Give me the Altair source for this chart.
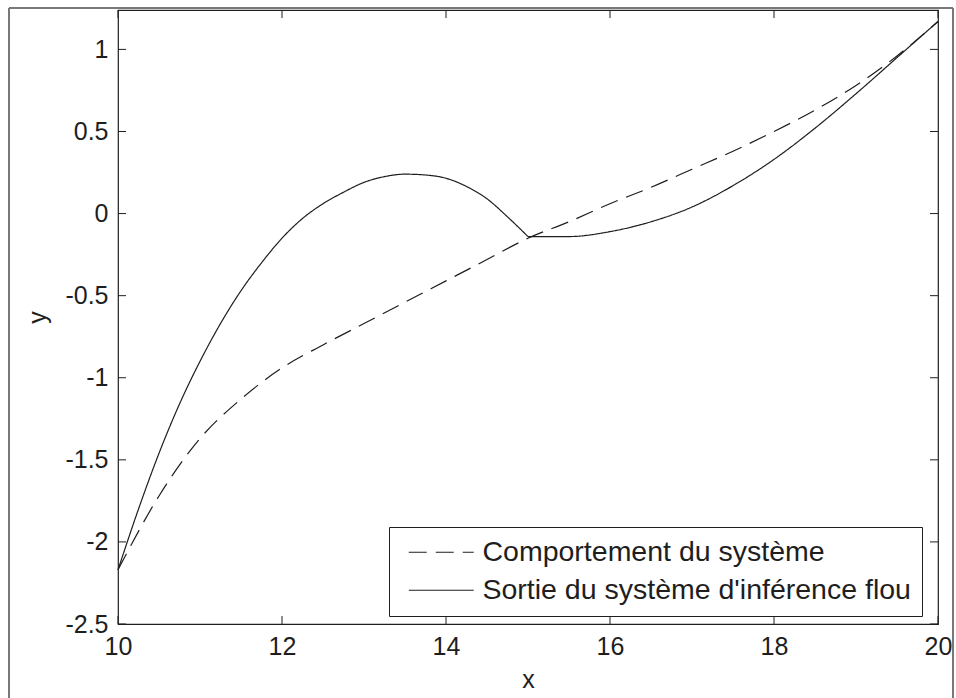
import altair as alt
import pandas as pd

# ---- data ----
series_names = ["Comportement du système", "Sortie du système d'inférence flou"]

x_sys = [10, 10.5, 11, 11.5, 12, 12.5, 13, 13.5, 14, 14.5, 15, 15.5, 16, 16.5, 17, 17.5, 18, 18.5, 19, 19.5, 20]
y_sys = [-2.17, -1.72, -1.37, -1.13, -0.94, -0.80, -0.67, -0.54, -0.41, -0.28, -0.15, -0.05, 0.06, 0.16, 0.27, 0.38, 0.50, 0.63, 0.78, 0.96, 1.17]

# fuzzy output, rising branch (10 -> 15) and second branch (15 -> 20)
x_fis_a = [10, 10.25, 10.5, 10.75, 11, 11.25, 11.5, 11.75, 12, 12.25, 12.5, 12.75, 13, 13.25, 13.5, 13.75, 14, 14.25, 14.5, 14.75, 15]
y_fis_a = [-2.17, -1.80, -1.46, -1.16, -0.90, -0.67, -0.47, -0.30, -0.15, -0.03, 0.06, 0.13, 0.19, 0.225, 0.24, 0.235, 0.215, 0.165, 0.09, -0.02, -0.14]
x_fis_b = [15, 15.5, 16, 16.5, 17, 17.5, 18, 18.5, 19, 19.5, 20]
y_fis_b = [-0.14, -0.14, -0.11, -0.05, 0.04, 0.17, 0.33, 0.52, 0.73, 0.95, 1.17]

x_ticks = [10, 12, 14, 16, 18, 20]
y_ticks = [-2.5, -2, -1.5, -1, -0.5, 0, 0.5, 1]

W, H = 820, 614
FONT = "Liberation Sans"
INK = "#1e1e1e"

df = pd.concat([
    pd.DataFrame({"x": x_sys, "y": y_sys, "series": series_names[0], "seg": "s0"}),
    pd.DataFrame({"x": x_fis_a, "y": y_fis_a, "series": series_names[1], "seg": "s1a"}),
    pd.DataFrame({"x": x_fis_b, "y": y_fis_b, "series": series_names[1], "seg": "s1b"}),
])

xs = alt.Scale(domain=[10, 20], nice=False, zero=False)
ys = alt.Scale(domain=[-2.5, 1.24], nice=False, zero=False)

ax_x = alt.Axis(values=x_ticks, title="x", ticks=False, grid=False, domain=False,
                labelFontSize=25, labelPadding=10, titleFontSize=25, titleFontWeight="normal",
                titlePadding=8, labelColor=INK, titleColor=INK, labelFont=FONT, titleFont=FONT,
                labelFlush=False, labelExpr="datum.value + ''")
ax_y = alt.Axis(values=y_ticks, title="y", ticks=False, grid=False, domain=False,
                labelFontSize=25, labelPadding=10, titleFontSize=25, titleFontWeight="normal",
                titlePadding=14, labelColor=INK, titleColor=INK, labelFont=FONT, titleFont=FONT,
                labelFlush=False, labelExpr="datum.value + ''")

lines = alt.Chart(df).mark_line(strokeWidth=1.2, color=INK, interpolate="monotone").encode(
    x=alt.X("x:Q", scale=xs, axis=ax_x, title="x"),
    y=alt.Y("y:Q", scale=ys, axis=ax_y, title="y"),
    strokeDash=alt.StrokeDash(
        "series:N",
        scale=alt.Scale(domain=series_names, range=[[18, 9], [1, 0]]),
        legend=alt.Legend(
            title=None, orient="none", legendX=271, legendY=517,
            symbolType="M-4,0H4", symbolSize=264, symbolStrokeColor=INK, symbolStrokeWidth=1.2,
            symbolOffset=27, labelOffset=27,
            labelFontSize=28.5, labelFont=FONT, labelColor=INK,
            padding=11, rowPadding=9, strokeColor=INK, fillColor="white",
            labelLimit=700,
        ),
    ),
    detail="seg:N",
)

xt = pd.DataFrame({"v": x_ticks})
yt = pd.DataFrame({"v": y_ticks})
TL = 8
tick_bottom = alt.Chart(xt).mark_rule(color=INK, strokeWidth=1).encode(
    x=alt.X("v:Q", scale=xs, axis=ax_x, title="x"), y=alt.value(H), y2=alt.value(H - TL))
tick_top = alt.Chart(xt).mark_rule(color=INK, strokeWidth=1).encode(
    x=alt.X("v:Q", scale=xs, axis=ax_x, title="x"), y=alt.value(0), y2=alt.value(TL))
tick_left = alt.Chart(yt).mark_rule(color=INK, strokeWidth=1).encode(
    y=alt.Y("v:Q", scale=ys, axis=ax_y, title="y"), x=alt.value(0), x2=alt.value(TL))
tick_right = alt.Chart(yt).mark_rule(color=INK, strokeWidth=1).encode(
    y=alt.Y("v:Q", scale=ys, axis=ax_y, title="y"), x=alt.value(W), x2=alt.value(W - TL))

# scan border around the figure
frame_left = alt.Chart(xt).mark_rule(color="#777", strokeWidth=1).encode(
    x=alt.value(-109), y=alt.value(-2), y2=alt.value(H + 74))
frame_top = alt.Chart(xt).mark_rule(color="#777", strokeWidth=1).encode(
    x=alt.value(-109), x2=alt.value(835), y=alt.value(-2))
frame_right = alt.Chart(xt).mark_rule(color="#777", strokeWidth=1).encode(
    x=alt.value(835), y=alt.value(-2), y2=alt.value(H + 74))

chart = alt.layer(
    lines, tick_bottom, tick_top, tick_left, tick_right, frame_left, frame_top, frame_right
).properties(
    width=W, height=H,
    autosize=alt.AutoSizeParams(type="none"),
    padding={"left": 118, "top": 10, "right": 18, "bottom": 74},
    background="white",
).configure(
    font=FONT,
    view=alt.ViewConfig(stroke=INK, strokeWidth=1.2),
)

chart.save("out.html", embed_options={"renderer": "svg", "actions": False})
